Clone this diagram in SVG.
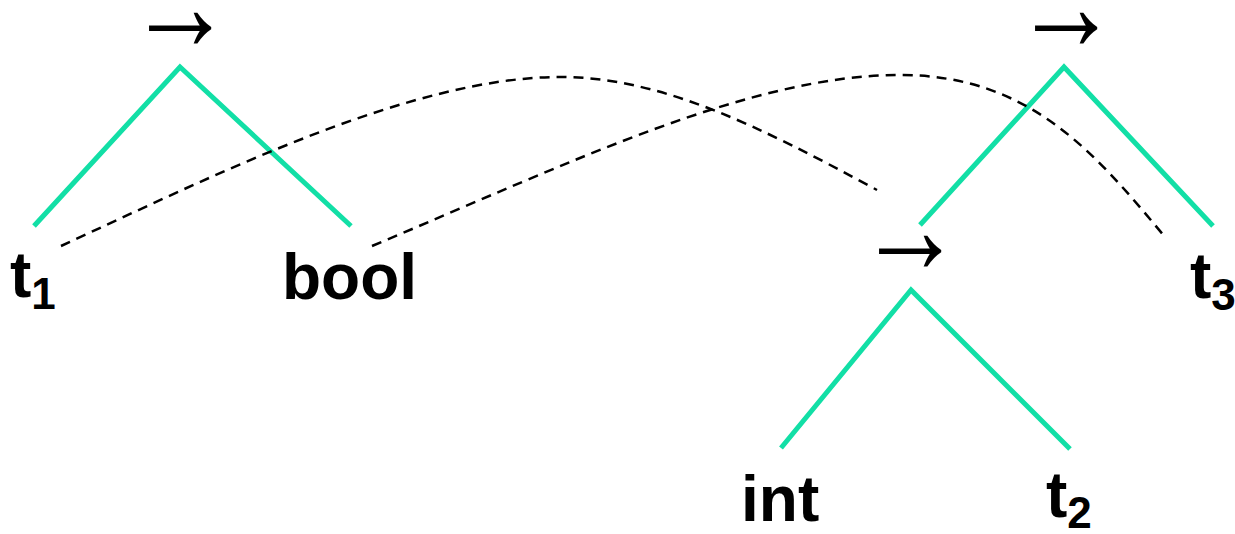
<svg xmlns="http://www.w3.org/2000/svg" width="1235" height="534" viewBox="0 0 1235 534">
<style>
.edge{fill:none;stroke:#12DFA6;stroke-width:5;stroke-linecap:butt;stroke-linejoin:miter}
.lbl{font-family:"Liberation Sans",Arial,sans-serif;font-weight:bold;font-size:64px;fill:#000}
.sub{font-size:44px}
.op{font-family:"Liberation Sans",Arial,sans-serif;font-size:105px;fill:#000}
.link{fill:none;stroke:#000;stroke-width:2.5;stroke-dasharray:10 7}
</style>
<rect width="1235" height="534" fill="#fff"/>
<g id="tree1">
<polyline class="edge" points="34,226 180,67 351,226"/>
<text class="op" x="180" y="45" text-anchor="middle" transform="translate(0,25) scale(1,1.25) translate(0,-25)">→</text>
</g>
<g id="tree2">
<polyline class="edge" points="920,225 1064,67 1213,226"/>
<text class="op" x="1066" y="45" text-anchor="middle" transform="translate(0,25) scale(1,1.25) translate(0,-25)">→</text>
</g>
<g id="tree3">
<polyline class="edge" points="781,448 911,290 1070,449"/>
<text class="op" x="910" y="268" text-anchor="middle" transform="translate(0,249) scale(1,1.25) translate(0,-249)">→</text>
</g>
<g id="t1"><text class="lbl" x="10" y="297">t<tspan class="sub" dy="12">1</tspan></text></g>
<g id="bool"><text class="lbl" x="282" y="299">bool</text></g>
<g id="int"><text class="lbl" x="741" y="521">int</text></g>
<g id="t2"><text class="lbl" x="1046" y="517">t<tspan class="sub" dy="11">2</tspan></text></g>
<g id="t3"><text class="lbl" x="1190" y="298">t<tspan class="sub" dy="12">3</tspan></text></g>
<g id="connectors">
<path class="link" d="M61,246 C211,177 410,77 560,77 C660,77 757,125 877,190"/>
<path class="link" d="M372,246 C572,162 750,75 900,75 C1030,75 1095,153 1165,237"/>
</g>
</svg>
